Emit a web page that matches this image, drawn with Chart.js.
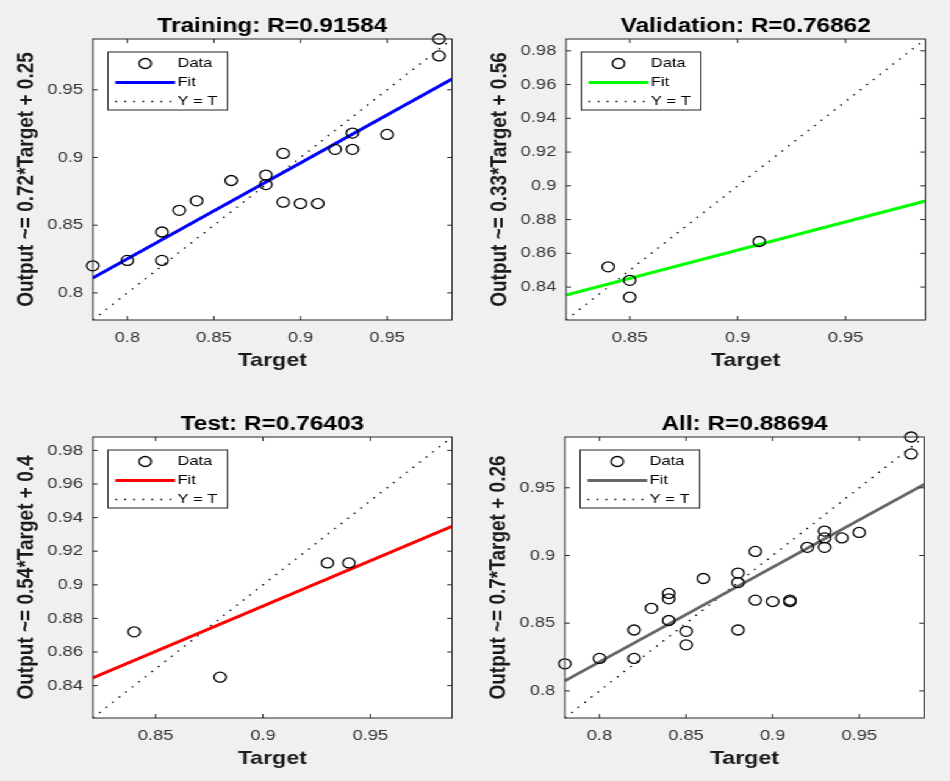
<!DOCTYPE html>
<html>
<head>
<meta charset="utf-8">
<title>Regression plots</title>
<script src="https://cdn.jsdelivr.net/npm/chart.js@4.4.1/dist/chart.umd.min.js"></script>
<style>
  html, body { margin: 0; padding: 0; background: #f0f0f0; overflow: hidden; width: 950px; height: 781px; }
  /* the reference is stretched sideways, so the whole figure is too */
  #figure { position: absolute; left: 0; top: 0; width: 779px; height: 781px; transform: scaleX(1.22); transform-origin: 0 0; }
  .cell { position: absolute; width: 389px; height: 390px; }
</style>
</head>
<body>
<div id="figure">
  <div class="cell" style="left:0px;top:0px"><canvas id="trainChart"></canvas></div>
  <div class="cell" style="left:388px;top:0px"><canvas id="valChart"></canvas></div>
  <div class="cell" style="left:0px;top:398px"><canvas id="testChart"></canvas></div>
  <div class="cell" style="left:387px;top:398px"><canvas id="allChart"></canvas></div>
</div>
<script>
const FONT = "'Liberation Sans', Arial, Helvetica, sans-serif";

// Training
const trainTarget = [0.78, 0.80, 0.82, 0.82, 0.83, 0.84, 0.86, 0.88, 0.88, 0.89, 0.89, 0.90, 0.91, 0.92, 0.93, 0.93, 0.95, 0.98, 0.98];
const trainOutput = [0.820, 0.824, 0.845, 0.824, 0.861, 0.868, 0.883, 0.887, 0.880, 0.903, 0.867, 0.866, 0.866, 0.906, 0.906, 0.918, 0.917, 0.975, 0.9875];
const trainFitX = [0.78, 0.9875];
const trainFitY = [0.811, 0.958];
const trainLimits = [0.78, 0.9875];
const trainTicks = [0.8, 0.85, 0.9, 0.95];

// Validation
const valTarget = [0.84, 0.85, 0.85, 0.91];
const valOutput = [0.852, 0.844, 0.834, 0.867];
const valFitX = [0.8205, 0.987];
const valFitY = [0.8353, 0.891];
const valLimits = [0.8205, 0.987];
const valTicksX = [0.85, 0.9, 0.95];
const valTicksY = [0.84, 0.86, 0.88, 0.9, 0.92, 0.94, 0.96, 0.98];

// Test
const testTarget = [0.84, 0.88, 0.93, 0.94];
const testOutput = [0.872, 0.845, 0.913, 0.913];
const testFitX = [0.8207, 0.988];
const testFitY = [0.8446, 0.9348];
const testLimits = [0.8207, 0.988];
const testTicksX = [0.85, 0.9, 0.95];
const testTicksY = [0.84, 0.86, 0.88, 0.9, 0.92, 0.94, 0.96, 0.98];

// All = every point of the three sets
const allTarget = trainTarget.concat(valTarget, testTarget);
const allOutput = trainOutput.concat(valOutput, testOutput);
const allFitX = [0.78, 0.9875];
const allFitY = [0.8074, 0.9525];
const allLimits = [0.78, 0.9875];
const allTicks = [0.8, 0.85, 0.9, 0.95];

function toPoints(xs, ys) {
    return xs.map((x, i) => ({ x: x, y: ys[i] }));
}

// White axes background, box and inward tick marks like MATLAB
const plotFrame = {
    id: 'plotFrame',
    beforeDraw(chart) {
        const a = chart.chartArea;
        const ctx = chart.ctx;
        ctx.save();
        ctx.fillStyle = '#ffffff';
        ctx.fillRect(a.left, a.top, a.right - a.left, a.bottom - a.top);
        ctx.restore();
    },
    afterDatasetsDraw(chart) {
        const a = chart.chartArea;
        const ctx = chart.ctx;
        const xs = chart.scales.x, ys = chart.scales.y;
        ctx.save();
        ctx.strokeStyle = '#262626';
        ctx.lineWidth = 1;
        ctx.strokeRect(a.left, a.top, a.right - a.left, a.bottom - a.top);
        ctx.beginPath();
        xs.ticks.forEach(t => {
            const px = xs.getPixelForValue(t.value);
            ctx.moveTo(px, a.bottom); ctx.lineTo(px, a.bottom - 4);
            ctx.moveTo(px, a.top); ctx.lineTo(px, a.top + 4);
        });
        ys.ticks.forEach(t => {
            const py = ys.getPixelForValue(t.value);
            ctx.moveTo(a.left, py); ctx.lineTo(a.left + 4, py);
            ctx.moveTo(a.right, py); ctx.lineTo(a.right - 4, py);
        });
        ctx.stroke();
        ctx.restore();
    }
};

// Legend box inside the axes (top left)
const boxLegend = {
    id: 'boxLegend',
    afterDraw(chart) {
        const a = chart.chartArea;
        const ctx = chart.ctx;
        const x0 = a.left + 12.5, y0 = a.top + 13, w = 98, h = 58;
        ctx.save();
        ctx.fillStyle = '#ffffff';
        ctx.fillRect(x0, y0, w, h);
        ctx.strokeStyle = '#262626';
        ctx.lineWidth = 1;
        ctx.strokeRect(x0, y0, w, h);
        ctx.font = '13.5px ' + FONT;
        ctx.textBaseline = 'middle';
        chart.data.datasets.forEach((ds, i) => {
            const y = y0 + 11.5 + i * 19;
            ctx.beginPath();
            if (ds.showLine) {
                ctx.strokeStyle = ds.borderColor;
                ctx.lineWidth = ds.borderWidth;
                ctx.setLineDash(ds.borderDash || []);
                ctx.moveTo(x0 + 6, y);
                ctx.lineTo(x0 + 55, y);
            } else {
                ctx.strokeStyle = ds.pointBorderColor;
                ctx.lineWidth = ds.pointBorderWidth;
                ctx.arc(x0 + 30.5, y, ds.pointRadius, 0, Math.PI * 2);
            }
            ctx.stroke();
            ctx.setLineDash([]);
            ctx.fillStyle = '#000000';
            ctx.fillText(ds.label, x0 + 57, y);
        });
        ctx.restore();
    }
};

function makeChart(id, cfg) {
    return new Chart(document.getElementById(id), {
        type: 'scatter',
        data: {
            datasets: [{
                label: 'Data',
                data: toPoints(cfg.target, cfg.output),
                showLine: false,
                pointStyle: 'circle',
                pointRadius: 5,
                pointBorderWidth: 1.3,
                pointBorderColor: '#000000',
                pointBackgroundColor: 'rgba(0,0,0,0)',
                clip: false
            }, {
                label: 'Fit',
                data: toPoints(cfg.fitX, cfg.fitY),
                showLine: true,
                borderColor: cfg.color,
                borderWidth: cfg.width,
                pointRadius: 0
            }, {
                label: 'Y = T',
                data: toPoints(cfg.limits, cfg.limits),
                showLine: true,
                borderColor: '#000000',
                borderWidth: 1.4,
                borderDash: [1.4, 6],
                pointRadius: 0
            }]
        },
        options: {
            responsive: true,
            maintainAspectRatio: false,
            animation: false,
            events: [],
            layout: { padding: { left: 0, right: 18.5, top: 0, bottom: 0 } },
            plugins: {
                legend: { display: false },
                tooltip: { enabled: false },
                title: {
                    display: true,
                    text: cfg.title,
                    fullSize: false,
                    color: '#000000',
                    font: { family: FONT, size: 20, weight: 'bold' },
                    padding: { top: 14, bottom: 1 }
                }
            },
            scales: {
                x: {
                    type: 'linear',
                    position: 'bottom',
                    min: cfg.limits[0],
                    max: cfg.limits[1],
                    afterBuildTicks: s => { s.ticks = cfg.ticksX.map(v => ({ value: v })); },
                    afterFit: s => { s.height = 70; },
                    grid: { display: false, drawTicks: false },
                    border: { display: false },
                    ticks: { padding: 9, color: '#333333', font: { family: FONT, size: 15 }, maxRotation: 0, callback: v => String(v) },
                    title: { display: true, text: 'Target', color: '#1a1a1a', font: { family: FONT, size: 19, weight: 'bold' }, padding: { top: 0, bottom: 18 } }
                },
                y: {
                    type: 'linear',
                    position: 'left',
                    min: cfg.limits[0],
                    max: cfg.limits[1],
                    afterBuildTicks: s => { s.ticks = cfg.ticksY.map(v => ({ value: v })); },
                    afterFit: s => { s.width = 76; },
                    grid: { display: false, drawTicks: false },
                    border: { display: false },
                    ticks: { padding: 8, color: '#333333', font: { family: FONT, size: 15 }, callback: v => String(v) },
                    title: { display: true, text: cfg.yTitle, color: '#1a1a1a', font: { family: FONT, size: 19, weight: 'bold' }, padding: { top: 10, bottom: 0 } }
                }
            }
        },
        plugins: [plotFrame, boxLegend]
    });
}

makeChart('trainChart', {
    title: 'Training: R=0.91584', yTitle: 'Output ~= 0.72*Target + 0.25',
    target: trainTarget, output: trainOutput, fitX: trainFitX, fitY: trainFitY,
    limits: trainLimits, ticksX: trainTicks, ticksY: trainTicks, color: '#0000ff', width: 3
});
makeChart('valChart', {
    title: 'Validation: R=0.76862', yTitle: 'Output ~= 0.33*Target + 0.56',
    target: valTarget, output: valOutput, fitX: valFitX, fitY: valFitY,
    limits: valLimits, ticksX: valTicksX, ticksY: valTicksY, color: '#00ff00', width: 3
});
makeChart('testChart', {
    title: 'Test: R=0.76403', yTitle: 'Output ~= 0.54*Target + 0.4',
    target: testTarget, output: testOutput, fitX: testFitX, fitY: testFitY,
    limits: testLimits, ticksX: testTicksX, ticksY: testTicksY, color: '#ff0000', width: 3
});
makeChart('allChart', {
    title: 'All: R=0.88694', yTitle: 'Output ~= 0.7*Target + 0.26',
    target: allTarget, output: allOutput, fitX: allFitX, fitY: allFitY,
    limits: allLimits, ticksX: allTicks, ticksY: allTicks, color: '#666666', width: 2.8
});
</script>
</body>
</html>
